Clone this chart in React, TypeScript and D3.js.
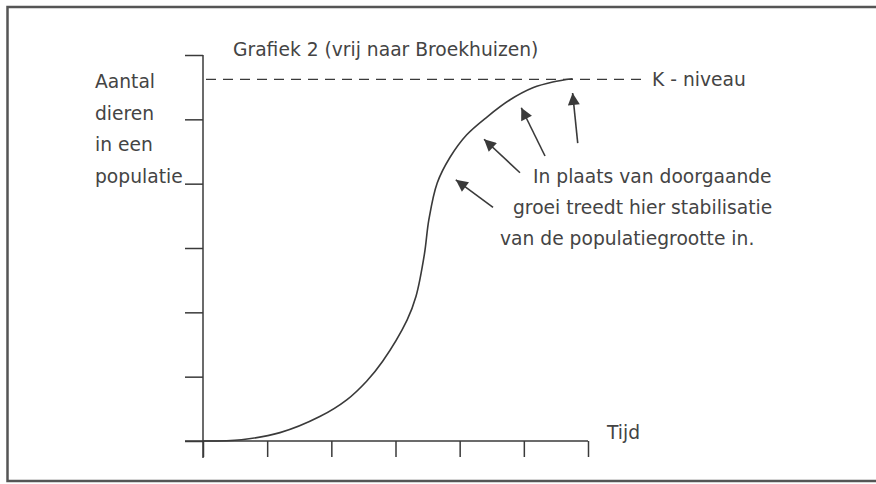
import React, { useEffect, useRef } from "react";
import * as d3 from "d3";

// time (x) and population (y), axis units = tick steps
const growthTime = [0, 0.6, 1.2, 1.82, 2.24, 2.55, 2.8, 3.18, 3.32, 3.45, 3.52, 3.65, 3.85, 4.11, 4.43, 4.78, 5.14, 5.45, 5.76];
const growthPop = [0, 0.02, 0.13, 0.38, 0.64, 0.93, 1.24, 1.88, 2.25, 2.9, 3.44, 4.01, 4.41, 4.76, 5.04, 5.3, 5.49, 5.58, 5.63];
const kLevel = 5.62;
const xTicks = [0, 1, 2, 3, 4, 5, 6];
const yTicks = [0, 1, 2, 3, 4, 5, 6];

const yLabelLines = ["Aantal", "dieren", "in een", "populatie"];
const noteLines = ["In plaats van doorgaande", "groei treedt hier stabilisatie", "van de populatiegrootte in."];
// arrows: [tailTime, tailPop, headTime, headPop]
const arrows = [
  [4.52, 3.63, 3.94, 4.06],
  [4.94, 4.17, 4.38, 4.69],
  [5.33, 4.43, 4.96, 5.18],
  [5.84, 4.63, 5.76, 5.41],
];

const W = 876;
const H = 484;
const FONT = "'DejaVu Sans', sans-serif";
const INK = "#3a3a3a";

export default function App() {
  const ref = useRef<SVGSVGElement>(null);

  useEffect(() => {
    const svg = d3.select(ref.current);
    svg.selectAll("*").remove();

    const x = d3.scaleLinear().domain([0, 6]).range([203, 588]);
    const y = d3.scaleLinear().domain([0, 6]).range([441, 55]);

    svg.append("rect").attr("width", W).attr("height", H).attr("fill", "#fff");

    // frame
    svg
      .append("path")
      .attr("d", `M${W + 5},7 L7.5,7 L7.5,481 L${W + 5},481`)
      .attr("fill", "none")
      .attr("stroke", "#555")
      .attr("stroke-width", 2.5);

    svg
      .append("defs")
      .append("marker")
      .attr("id", "head")
      .attr("viewBox", "0 0 10 10")
      .attr("refX", 10)
      .attr("refY", 5)
      .attr("markerWidth", 15)
      .attr("markerHeight", 12)
      .attr("markerUnits", "userSpaceOnUse")
      .attr("orient", "auto")
      .append("path")
      .attr("d", "M0,0 L10,5 L0,10 Z")
      .attr("fill", INK);

    // y axis
    const yAxis = svg
      .append("g")
      .attr("transform", `translate(${x(0)},0)`)
      .call(d3.axisLeft(y).tickValues(yTicks).tickSize(18).tickFormat(() => ""));
    yAxis.select(".domain").attr("d", `M0,${y(6)}V${y(0) + 17}`);

    // x axis
    const xAxis = svg
      .append("g")
      .attr("transform", `translate(0,${y(0)})`)
      .call(d3.axisBottom(x).tickValues(xTicks).tickSize(16).tickFormat(() => ""));
    xAxis.select(".domain").attr("d", `M${x(0) - 18},0H${x(6)}`);

    svg.selectAll(".domain, .tick line").attr("stroke", INK).attr("stroke-width", 1.5);

    // K level
    svg
      .append("line")
      .attr("x1", x(0) + 3)
      .attr("x2", 646)
      .attr("y1", y(kLevel))
      .attr("y2", y(kLevel))
      .attr("stroke", INK)
      .attr("stroke-width", 1.3)
      .attr("stroke-dasharray", "10,7");

    const pts = growthTime.map((t, i) => [t, growthPop[i]] as [number, number]);
    const line = d3
      .line<[number, number]>()
      .x((d) => x(d[0]))
      .y((d) => y(d[1]))
      .curve(d3.curveCatmullRom.alpha(0.5));
    svg
      .append("path")
      .attr("d", line(pts))
      .attr("fill", "none")
      .attr("stroke", INK)
      .attr("stroke-width", 1.6);

    svg
      .append("g")
      .selectAll("line")
      .data(arrows)
      .join("line")
      .attr("x1", (d) => x(d[0]))
      .attr("y1", (d) => y(d[1]))
      .attr("x2", (d) => x(d[2]))
      .attr("y2", (d) => y(d[3]))
      .attr("stroke", INK)
      .attr("stroke-width", 1.6)
      .attr("marker-end", "url(#head)");

    const txt = (s: string, tx: number, ty: number, size = 18.7) =>
      svg
        .append("text")
        .attr("x", tx)
        .attr("y", ty)
        .attr("font-family", FONT)
        .attr("font-size", size)
        .attr("fill", "#444")
        .text(s);

    txt("Grafiek 2 (vrij naar Broekhuizen)", 233, 56);
    yLabelLines.forEach((s, i) => txt(s, 95, 88 + i * 31.5));
    txt("K - niveau", 652, 86);
    txt("Tijd", 607, 439);
    const noteX = [533, 513, 500];
    noteLines.forEach((s, i) => txt(s, noteX[i], 183 + i * 31));
  }, []);

  return (
    <svg
      ref={ref}
      width={W}
      height={H}
      style={{ position: "absolute", left: 0, top: 0, display: "block" }}
    />
  );
}
